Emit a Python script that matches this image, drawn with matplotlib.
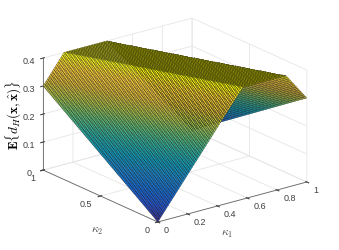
import numpy as np
import matplotlib
matplotlib.use('Agg')
import matplotlib.pyplot as plt
import matplotlib.tri as mtri
from matplotlib.colors import LinearSegmentedColormap

plt.rcParams['font.family'] = ['Liberation Sans', 'DejaVu Sans']
plt.rcParams['mathtext.fontset'] = 'cm'

# corners of the surface
kappa1 = [0, 0.57, 0.86, 1, 0, 0.14, 0.43, 1]
kappa2 = [0, 0, 0, 0, 1, 1, 1, 1]
e_dist = [0, 0.4, 0.4, 0.3, 0.3, 0.4, 0.4, 0]
faces = [[0, 1, 5], [0, 5, 4], [1, 2, 6], [1, 6, 5], [2, 3, 7], [2, 7, 6]]

k1_ticks = [0, 0.2, 0.4, 0.6, 0.8, 1]
k2_ticks = [0, 0.5, 1]
z_ticks = [0, 0.1, 0.2, 0.3, 0.4]

parula = LinearSegmentedColormap.from_list('parula', [
    (0.208, 0.166, 0.529), (0.125, 0.317, 0.85), (0.06, 0.42, 0.86),
    (0.08, 0.52, 0.82), (0.03, 0.62, 0.75), (0.15, 0.69, 0.63),
    (0.36, 0.74, 0.45), (0.66, 0.75, 0.26), (0.88, 0.73, 0.2),
    (0.99, 0.8, 0.2), (0.976, 0.984, 0.055)])

fig = plt.figure(figsize=(3.39, 2.5), dpi=100)
ax = fig.add_axes([46.6 / 339, 1.6 / 250, 250 / 339, 1.0], projection='3d')
ax.set_proj_type('ortho')
ax.view_init(elev=20.4, azim=-127.6)
ax.set_box_aspect((188, 188, 119.5), zoom=1.132)

# mesh only for the shading, sampled off the flat faces
tri = mtri.Triangulation(kappa1, kappa2, faces)
interp = mtri.LinearTriInterpolator(tri, np.array(e_dist, dtype=float))
X, Y = np.meshgrid(np.linspace(0, 1, 101), np.linspace(0, 1, 101))
# stay just inside the outline, points on it can come back masked
Z = interp(np.clip(X, 1e-9, 1 - 1e-9), np.clip(Y, 1e-9, 1 - 1e-9)).filled(0)

surf = ax.plot_surface(X, Y, Z, rstride=1, cstride=1, cmap=parula, vmin=0, vmax=0.4,
                       edgecolor='k', linewidth=0.17, shade=False, antialiased=True)
surf.set_clip_on(False)

ax.set_xlim(0, 1, view_margin=0)
ax.set_ylim(0, 1, view_margin=0)
ax.set_zlim(0, 0.4, view_margin=0)
ax.set_xticks(k1_ticks)
ax.set_xticklabels(['0', '0.2', '0.4', '0.6', '0.8', '1'], ha='left', va='center')
ax.set_yticks(k2_ticks)
ax.set_yticklabels(['0', '0.5', '1'], ha='right', va='center')
ax.set_zticks(z_ticks)
ax.set_zticklabels(['0', '0.1', '0.2', '0.3', '0.4'])

for axis in (ax.xaxis, ax.yaxis, ax.zaxis):
    axis.set_pane_color((1, 1, 1, 0))
    axis.pane.set_edgecolor((0.9, 0.9, 0.9))
    axis.line.set_color('#666666')
    axis.line.set_linewidth(0.6)
    axis._axinfo['grid'].update(color='#e6e6e6', linewidth=0.6)
    axis._axinfo['tick'].update(color='#666666')
ax.tick_params(labelsize=6.5, colors='#404040', pad=-3, width=0.5)

fig.text(227 / 339, 1 - 234 / 250, r'$\kappa_1$', fontsize=8.5, color='#505050', ha='center', va='center')
fig.text(97 / 339, 1 - 231 / 250, r'$\kappa_2$', fontsize=8.5, color='#505050', ha='center', va='center')
fig.text(14 / 339, 1 - 115 / 250, r'$\mathbf{E}\{d_H(\mathbf{x},\hat{\mathbf{x}})\}$', fontsize=9.5,
         rotation=90, ha='center', va='center')

fig.savefig('out.png', dpi=100)
